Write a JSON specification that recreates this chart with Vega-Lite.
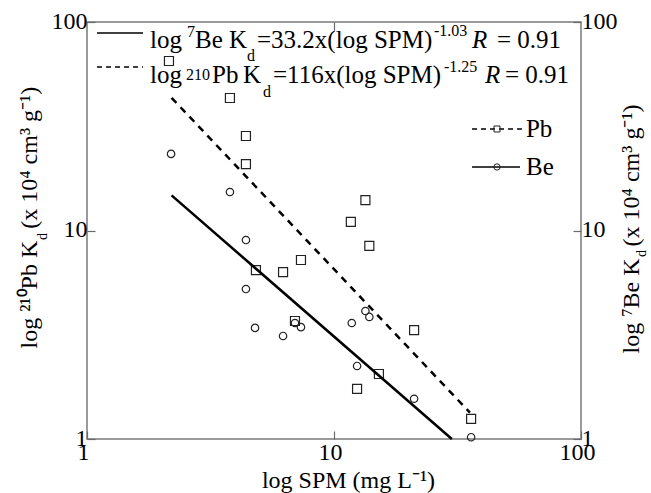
{
  "$schema": "https://vega.github.io/schema/vega-lite/v6.json",
  "width": 494,
  "height": 417,
  "autosize": "none",
  "padding": {"left": 87, "top": 22, "right": 70, "bottom": 54},
  "background": "white",
  "config": {
    "font": "Liberation Serif",
    "view": {"stroke": "#7a7a7a", "strokeWidth": 1.5},
    "axis": {
      "domain": false, "grid": false,
      "tickColor": "#6a6a6a", "tickSize": -8, "tickWidth": 1.2,
      "labelFont": "Liberation Serif", "labelFontSize": 24, "labelColor": "black",
      "labelFlush": false, "labelOverlap": false, "labelPadding": 8,
      "titleFont": "Liberation Serif", "titleFontSize": 24, "titleFontWeight": "normal", "titleColor": "black"
    }
  },
  "datasets": {
    "pb": [
      {"x": 2.147, "y": 65.0}, {"x": 3.79, "y": 43.2}, {"x": 4.40, "y": 28.4}, {"x": 4.40, "y": 20.8},
      {"x": 4.83, "y": 6.46}, {"x": 6.22, "y": 6.32}, {"x": 7.35, "y": 7.22}, {"x": 6.95, "y": 3.68},
      {"x": 11.7, "y": 11.0}, {"x": 13.4, "y": 14.0}, {"x": 13.9, "y": 8.43}, {"x": 21.1, "y": 3.33},
      {"x": 15.2, "y": 2.05}, {"x": 12.4, "y": 1.74}, {"x": 35.9, "y": 1.25}
    ],
    "be": [
      {"x": 2.19, "y": 23.3}, {"x": 3.79, "y": 15.3}, {"x": 4.40, "y": 9.0}, {"x": 4.40, "y": 5.24},
      {"x": 4.79, "y": 3.41}, {"x": 6.22, "y": 3.12}, {"x": 6.95, "y": 3.60}, {"x": 7.35, "y": 3.44},
      {"x": 11.8, "y": 3.60}, {"x": 13.4, "y": 4.11}, {"x": 13.9, "y": 3.85}, {"x": 12.4, "y": 2.24},
      {"x": 21.1, "y": 1.56}, {"x": 35.9, "y": 1.02}
    ],
    "pbfit": [{"x": 2.2, "y": 43.29}, {"x": 35.5, "y": 1.339}],
    "befit": [{"x": 2.2, "y": 14.74}, {"x": 30.0, "y": 1.0}],
    "legsolid": [{"x": 1.098, "x2": 1.686, "y": 88.56}, {"x": 36.21, "x2": 56.62, "y": 20.17}],
    "legdash": [{"x": 1.098, "x2": 1.686, "y": 60.83}, {"x": 36.21, "x2": 57.68, "y": 30.68}],
    "legsq": [{"x": 45.70, "y": 30.68}],
    "legci": [{"x": 45.70, "y": 20.17}],
    "maintext": [
      {"x": 1.799, "y": 75.05, "t": "log"}, {"x": 2.737, "y": 75.05, "t": "Be K"},
      {"x": 4.879, "y": 75.05, "t": "=33.2x(log SPM)"}, {"x": 45.70, "y": 75.05, "t": "= 0.91"},
      {"x": 1.799, "y": 50.97, "t": "log"}, {"x": 3.207, "y": 50.97, "t": "Pb"}, {"x": 4.281, "y": 50.97, "t": "K"},
      {"x": 5.664, "y": 50.97, "t": "=116x(log SPM)"}, {"x": 49.24, "y": 50.97, "t": "= 0.91"},
      {"x": 59.87, "y": 28.08, "t": "Pb"}, {"x": 59.87, "y": 18.46, "t": "Be"}
    ],
    "smalltext": [
      {"x": 2.540, "y": 84.73, "t": "7"}, {"x": 4.444, "y": 65.02, "t": "d"}, {"x": 25.40, "y": 85.67, "t": "-1.03"},
      {"x": 2.517, "y": 52.69, "t": "210"}, {"x": 5.158, "y": 43.69, "t": "d"}, {"x": 27.88, "y": 57.57, "t": "-1.25"}
    ],
    "italictext": [{"x": 36.21, "y": 75.05, "t": "R"}, {"x": 40.86, "y": 50.97, "t": "R"}],
    "rottext": [{"x": 0.689, "y": 9.0, "t": "d"}, {"x": 183.3, "y": 7.462, "t": "d"}]
  },
  "layer": [
    {
      "encoding": {
        "x": {"field": "x", "type": "quantitative",
              "scale": {"type": "log", "domain": [1, 100]},
              "axis": {"values": [1, 10, 100], "format": "d", "labelOffset": -4, "labelPadding": 9, "title": "log SPM (mg L⁻¹)",
                       "titleX": 261, "titleY": 48, "titleAlign": "center", "titleBaseline": "alphabetic"}},
        "y": {"field": "y", "type": "quantitative",
              "scale": {"type": "log", "domain": [1, 100]},
              "axis": {"values": [1, 10, 100], "format": "d", "labelOffset": -1, "title": "log ²¹⁰Pb K\u00a0\u00a0(x 10⁴ cm³ g⁻¹)",
                       "titleAngle": -90, "titleX": -51, "titleY": 326, "titleAlign": "left", "titleBaseline": "alphabetic"}}
      },
      "layer": [
        {"data": {"name": "pbfit"}, "mark": {"type": "line", "color": "black", "strokeWidth": 2.5, "strokeDash": [7, 6]}},
        {"data": {"name": "pb"}, "mark": {"type": "point", "shape": "square", "filled": false, "size": 81, "stroke": "#222", "strokeWidth": 1.2, "opacity": 1}},
        {"data": {"name": "legsolid"}, "mark": {"type": "rule", "color": "black", "strokeWidth": 1.5}, "encoding": {"x2": {"field": "x2"}}},
        {"data": {"name": "legdash"}, "mark": {"type": "rule", "color": "black", "strokeWidth": 1.5, "strokeDash": [5, 4]}, "encoding": {"x2": {"field": "x2"}}},
        {"data": {"name": "legsq"}, "mark": {"type": "point", "shape": "square", "filled": false, "size": 36, "stroke": "#222", "strokeWidth": 1, "opacity": 1}},
        {"data": {"name": "legci"}, "mark": {"type": "point", "shape": "circle", "filled": false, "size": 40, "stroke": "#222", "strokeWidth": 1, "opacity": 1}},
        {"data": {"name": "maintext"}, "mark": {"type": "text", "font": "Liberation Serif", "fontSize": 25, "align": "left", "baseline": "alphabetic", "color": "black"}, "encoding": {"text": {"field": "t"}}},
        {"data": {"name": "smalltext"}, "mark": {"type": "text", "font": "Liberation Serif", "fontSize": 16, "align": "left", "baseline": "alphabetic", "color": "black"}, "encoding": {"text": {"field": "t"}}},
        {"data": {"name": "italictext"}, "mark": {"type": "text", "font": "Liberation Serif", "fontSize": 25, "fontStyle": "italic", "align": "left", "baseline": "alphabetic", "color": "black"}, "encoding": {"text": {"field": "t"}}},
        {"data": {"name": "rottext"}, "mark": {"type": "text", "font": "Liberation Serif", "fontSize": 14, "angle": -90, "align": "left", "baseline": "alphabetic", "color": "black"}, "encoding": {"text": {"field": "t"}}}
      ]
    },
    {
      "encoding": {
        "x": {"field": "x", "type": "quantitative",
              "scale": {"type": "log", "domain": [1, 100]},
              "axis": {"orient": "top", "values": [10], "labels": false, "title": null}},
        "y": {"field": "y", "type": "quantitative",
              "scale": {"type": "log", "domain": [1, 100]},
              "axis": {"orient": "right", "values": [1, 10, 100], "format": "d", "labelOffset": -1, "title": "log ⁷Be K\u00a0\u00a0(x 10⁴ cm³ g⁻¹)",
                       "titleAngle": -90, "titleX": 57, "titleY": 331, "titleAlign": "left", "titleBaseline": "alphabetic"}}
      },
      "layer": [
        {"data": {"name": "befit"}, "mark": {"type": "line", "color": "black", "strokeWidth": 2.5}},
        {"data": {"name": "be"}, "mark": {"type": "point", "shape": "circle", "filled": false, "size": 55, "stroke": "#222", "strokeWidth": 1.2, "opacity": 1}}
      ]
    }
  ],
  "resolve": {"scale": {"x": "independent", "y": "independent"}}
}
